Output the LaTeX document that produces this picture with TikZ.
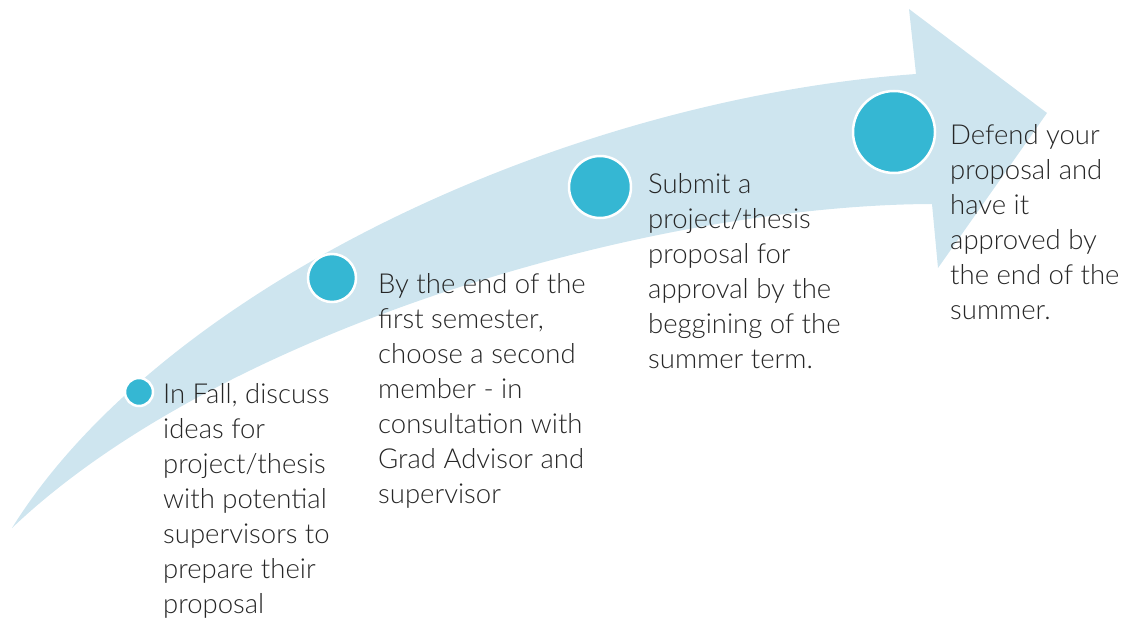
\documentclass[tikz,border=0pt]{standalone}
\usepackage{fontspec}
\setmainfont{Lato Light}
\begin{document}
\begin{tikzpicture}[x=1pt,y=-1pt,
  band/.style={fill=bandblue,draw=none},
  dot/.style={circle,fill=dotblue,draw=white,line width=2.5pt,inner sep=0pt},
  label/.style={anchor=base west,align=left,inner sep=0pt,text=textgray,
    font=\fontsize{27.5}{35}\selectfont}]
\definecolor{bandblue}{RGB}{206,229,239}
\definecolor{dotblue}{RGB}{53,183,211}
\definecolor{textgray}{RGB}{38,38,38}
\useasboundingbox (0,0) rectangle (1126,620);
\fill[band] (12,528) .. controls (160,290) and (560,100) .. (916,74)
  -- (909,9) -- (1047,113) -- (938,268) -- (932,204)
  .. controls (650,205) and (220,330) .. (12,528) -- cycle;
\node[dot,minimum size=28pt] (d1) at (139,392) {};
\node[dot,minimum size=48pt] (d2) at (332,278) {};
\node[dot,minimum size=62pt] (d3) at (600,187) {};
\node[dot,minimum size=82pt] (d4) at (894,132) {};
\node[label] (t1) at (163,613) {In Fall, discuss\\ideas for\\project/thesis\\with potential\\supervisors to\\prepare their\\proposal};
\node[label] (t2) at (378,503) {By the end of the\\first semester,\\choose a second\\member - in\\consultation with\\Grad Advisor and\\supervisor};
\node[label] (t3) at (648,368) {Submit a\\project/thesis\\proposal for\\approval by the\\beggining of the\\summer term.};
\node[label] (t4) at (950,319) {Defend your\\proposal and\\have it\\approved by\\the end of the\\summer.};
\end{tikzpicture}
\end{document}
